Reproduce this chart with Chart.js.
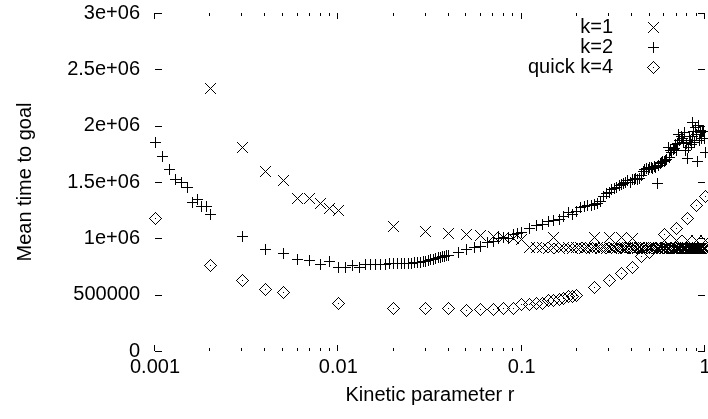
<!DOCTYPE html>
<html>
<head>
<meta charset="utf-8">
<script src="https://cdn.jsdelivr.net/npm/chart.js@4.4.0/dist/chart.umd.min.js"></script>
<style>
  html, body { margin: 0; padding: 0; background: #fff; overflow: hidden; }
</style>
</head>
<body>
<canvas id="myChart" width="708" height="419"></canvas>
<script>
// k=1
var k1X = [0.002, 0.003, 0.004, 0.005, 0.006, 0.007, 0.008, 0.009, 0.01,
  0.02, 0.03, 0.04, 0.05, 0.06, 0.07, 0.08, 0.09, 0.1,
  0.11, 0.12, 0.13, 0.14, 0.15, 0.16, 0.17, 0.18, 0.19, 0.2,
  0.21, 0.22, 0.23, 0.24, 0.25, 0.26, 0.27, 0.28, 0.29, 0.3,
  0.31, 0.32, 0.33, 0.34, 0.35, 0.36, 0.37, 0.38, 0.39, 0.4,
  0.41, 0.42, 0.43, 0.44, 0.45, 0.46, 0.47, 0.48, 0.49, 0.5,
  0.51, 0.52, 0.53, 0.54, 0.55, 0.56, 0.57, 0.58, 0.59, 0.6,
  0.61, 0.62, 0.63, 0.64, 0.65, 0.66, 0.67, 0.68, 0.69, 0.7,
  0.71, 0.72, 0.73, 0.74, 0.75, 0.76, 0.77, 0.78, 0.79, 0.8,
  0.81, 0.82, 0.83, 0.84, 0.85, 0.86, 0.87, 0.88, 0.89, 0.9,
  0.91, 0.92, 0.93, 0.94, 0.95, 0.96, 0.97, 0.98, 0.99, 1.0,
  0.15, 0.25, 0.3, 0.35, 0.4, 0.6, 0.7, 0.8, 0.9, 1.0];
var k1Y = [2334000, 1806000, 1590000, 1515000, 1355000, 1355000, 1310000, 1266000, 1251000,
  1105000, 1065000, 1047000, 1035000, 1025000, 1015000, 1005000, 1000000, 990000,
  918000, 915000, 917000, 914000, 916000, 913000, 915000, 917000, 914000, 916000,
  915000, 913000, 916000, 914000, 915000, 917000, 913000, 915000, 914000, 916000,
  914000, 915000, 913000, 916000, 915000, 914000, 912000, 915000, 916000, 914000,
  913000, 915000, 914000, 916000, 913000, 915000, 914000, 912000, 915000, 914000,
  915000, 913000, 914000, 916000, 914000, 913000, 915000, 914000, 912000, 914000,
  913000, 915000, 914000, 913000, 915000, 912000, 914000, 913000, 915000, 914000,
  912000, 914000, 913000, 915000, 913000, 914000, 912000, 914000, 913000, 915000,
  913000, 914000, 912000, 914000, 913000, 915000, 912000, 914000, 913000, 914000,
  912000, 914000, 913000, 914000, 912000, 913000, 915000, 913000, 914000, 912000,
  1003000, 1003000, 1003000, 1003000, 1000000, 985000, 985000, 985000, 985000, 985000];

// k=2
var k2X = [0.001, 0.0011, 0.0012, 0.0013, 0.0014, 0.0015, 0.0016, 0.0017, 0.0018, 0.0019, 0.002,
  0.003, 0.004, 0.005, 0.006, 0.007, 0.008, 0.009, 0.01,
  0.011, 0.012, 0.013, 0.014, 0.015, 0.016, 0.017, 0.018, 0.019, 0.02,
  0.021, 0.022, 0.023, 0.024, 0.025, 0.026, 0.027, 0.028, 0.029, 0.03,
  0.031, 0.032, 0.033, 0.034, 0.035, 0.036, 0.037, 0.038, 0.039, 0.04,
  0.045, 0.05, 0.055, 0.06, 0.065, 0.07, 0.075, 0.08, 0.085, 0.09, 0.095, 0.1,
  0.11, 0.12, 0.13, 0.14, 0.15, 0.16, 0.17, 0.18, 0.19, 0.2,
  0.21, 0.22, 0.23, 0.24, 0.25, 0.26, 0.27, 0.28, 0.29, 0.3,
  0.31, 0.32, 0.33, 0.34, 0.35, 0.36, 0.37, 0.38, 0.39, 0.4,
  0.41, 0.42, 0.43, 0.44, 0.45, 0.46, 0.47, 0.48, 0.49, 0.5,
  0.51, 0.52, 0.53, 0.54, 0.55, 0.56, 0.57, 0.58, 0.59, 0.6,
  0.61, 0.62, 0.63, 0.64, 0.65, 0.66, 0.67, 0.68, 0.69, 0.7,
  0.71, 0.72, 0.73, 0.74, 0.75, 0.76, 0.77, 0.78, 0.79, 0.8,
  0.81, 0.82, 0.83, 0.84, 0.85, 0.86, 0.87, 0.88, 0.89, 0.9,
  0.91, 0.92, 0.93, 0.94, 0.95, 0.96, 0.97, 0.98, 0.99, 1.0];
var k2Y = [1855000, 1730000, 1615000, 1518000, 1494000, 1450000, 1316000, 1346000, 1280000, 1280000, 1210000,
  1015000, 905000, 861000, 808000, 799000, 769000, 793000, 743000,
  743000, 763000, 745000, 768000, 772000, 772000, 770000, 772000, 774000, 775000,
  776000, 775000, 778000, 780000, 780000, 782000, 785000, 788000, 790000, 793000,
  800000, 810000, 815000, 822000, 828000, 832000, 836000, 840000, 845000, 850000,
  870000, 905000, 915000, 930000, 960000, 970000, 995000, 1010000, 1000000, 1030000, 1045000, 1056000,
  1090000, 1110000, 1120000, 1145000, 1160000, 1170000, 1190000, 1225000, 1210000, 1240000,
  1270000, 1280000, 1290000, 1295000, 1300000, 1310000, 1330000, 1370000, 1400000, 1410000,
  1430000, 1440000, 1455000, 1465000, 1480000, 1490000, 1500000, 1510000, 1500000, 1520000,
  1525000, 1530000, 1525000, 1535000, 1560000, 1590000, 1610000, 1620000, 1615000, 1625000,
  1630000, 1620000, 1635000, 1625000, 1490000, 1645000, 1660000, 1670000, 1680000, 1685000,
  1695000, 1700000, 1810000, 1720000, 1780000, 1765000, 1790000, 1800000, 1830000, 1780000,
  1845000, 1920000, 1870000, 1900000, 1890000, 1855000, 1935000, 1780000, 1845000, 1710000,
  1810000, 1905000, 1870000, 1830000, 2030000, 1900000, 1945000, 1855000, 1980000, 1920000,
  1680000, 2000000, 1870000, 1960000, 1935000, 1890000, 1950000, 1945000, 1890000, 1760000];

// quick k=4
var k4X = [0.001, 0.002, 0.003, 0.004, 0.005, 0.01,
  0.02, 0.03, 0.04, 0.05, 0.06, 0.07, 0.08, 0.09,
  0.1, 0.11, 0.12, 0.13, 0.14, 0.15, 0.16, 0.17, 0.18, 0.19, 0.2,
  0.25, 0.3, 0.35, 0.4, 0.45, 0.5, 0.6, 0.7, 0.8, 0.9, 1.0];
var k4Y = [1180000, 755000, 630000, 550000, 515000, 426000,
  373000, 373000, 373000, 357000, 370000, 372000, 375000, 378000,
  410000, 417000, 420000, 425000, 445000, 450000, 460000, 470000, 480000, 480000, 490000,
  560000, 630000, 690000, 745000, 835000, 870000, 1030000, 1090000, 1180000, 1290000, 1370000];

var seriesLabels = ['k=1', 'k=2', 'quick k=4'];
var xTickValues = [0.001, 0.01, 0.1, 1];
var xTickLabels = ['0.001', '0.01', '0.1', '1'];
var yTickValues = [0, 500000, 1000000, 1500000, 2000000, 2500000, 3000000];
var yTickLabels = ['0', '500000', '1e+06', '1.5e+06', '2e+06', '2.5e+06', '3e+06'];

var FONT_FAMILY = '"Liberation Sans", Arial, Helvetica, sans-serif';
var FONT_SIZE = 20;

function toPoints(xs, ys) {
  var pts = [];
  for (var i = 0; i < xs.length; i++) pts.push({ x: xs[i], y: ys[i] });
  return pts;
}

// pixel markers like gnuplot's: x, + and diamond with a dot
function makeMarker(kind, half) {
  var n = half * 2 + 1;
  var cv = document.createElement('canvas');
  cv.width = n; cv.height = n;
  var g = cv.getContext('2d');
  g.fillStyle = '#000';
  for (var i = -half; i <= half; i++) {
    for (var j = -half; j <= half; j++) {
      var on = false;
      if (kind === 'x') on = Math.abs(i) === Math.abs(j);
      else if (kind === '+') on = i === 0 || j === 0;
      else on = Math.abs(i) + Math.abs(j) === half || (i === 0 && j === 0);
      if (on) g.fillRect(i + half, j + half, 1, 1);
    }
  }
  return cv;
}
var markX = makeMarker('x', 5);
var markPlus = makeMarker('+', 5);
var markDiamond = makeMarker('d', 6);

var crispPlugin = {
  id: 'crispMarks',
  beforeDatasetsDraw: function (chart) { chart.ctx.imageSmoothingEnabled = false; },
  afterDatasetsDraw: function (chart) { chart.ctx.imageSmoothingEnabled = true; }
};

// inward ticks on all four sides, no border
var tickPlugin = {
  id: 'gnuplotTicks',
  afterDraw: function (chart) {
    var c = chart.ctx, a = chart.chartArea, xs = chart.scales.x, ys = chart.scales.y;
    c.save();
    c.strokeStyle = '#000';
    c.lineWidth = 1;
    c.beginPath();
    yTickValues.forEach(function (v) {
      var py = Math.round(ys.getPixelForValue(v)) + 0.5;
      c.moveTo(a.left, py); c.lineTo(a.left + 7, py);
      c.moveTo(a.right, py); c.lineTo(a.right - 7, py);
    });
    xTickValues.forEach(function (v, i) {
      var px = Math.round(xs.getPixelForValue(v)) - 0.5;
      c.moveTo(px, a.bottom); c.lineTo(px, a.bottom - 6);
      c.moveTo(px, a.top); c.lineTo(px, a.top + 6);
      if (i < xTickValues.length - 1) {
        for (var m = 2; m <= 9; m++) {
          var mx = Math.round(xs.getPixelForValue(v * m)) - 0.5;
          c.moveTo(mx, a.bottom); c.lineTo(mx, a.bottom - 3);
          c.moveTo(mx, a.top); c.lineTo(mx, a.top + 3);
        }
      }
    });
    c.stroke();
    c.restore();
  }
};

// key in the top right: label, then symbol
var keyPlugin = {
  id: 'gnuplotKey',
  afterDraw: function (chart) {
    var c = chart.ctx;
    c.save();
    c.imageSmoothingEnabled = false;
    c.font = FONT_SIZE + 'px ' + FONT_FAMILY;
    c.fillStyle = '#000';
    c.textAlign = 'right';
    c.textBaseline = 'middle';
    chart.data.datasets.forEach(function (ds, i) {
      var yy = Math.round(27 + i * 20);
      var img = ds.pointStyle;
      c.fillText(ds.label, 613, yy);
      c.drawImage(img, 653 - Math.floor(img.width / 2), yy - Math.floor(img.height / 2));
    });
    c.restore();
  }
};

var ctx = document.getElementById('myChart').getContext('2d');
var chart = new Chart(ctx, {
  type: 'scatter',
  data: {
    datasets: [{
      label: seriesLabels[0],
      data: toPoints(k1X, k1Y),
      pointStyle: markX,
      pointRadius: 5,
      borderColor: '#000',
      backgroundColor: 'transparent',
      clip: false
    }, {
      label: seriesLabels[1],
      data: toPoints(k2X, k2Y),
      pointStyle: markPlus,
      pointRadius: 5,
      borderColor: '#000',
      backgroundColor: 'transparent',
      clip: false
    }, {
      label: seriesLabels[2],
      data: toPoints(k4X, k4Y),
      pointStyle: markDiamond,
      pointRadius: 6,
      borderColor: '#000',
      backgroundColor: 'transparent',
      clip: false
    }]
  },
  options: {
    responsive: false,
    animation: false,
    devicePixelRatio: 1,
    layout: { autoPadding: false, padding: { top: 13, right: 3, left: 0, bottom: 0 } },
    plugins: {
      legend: { display: false },
      tooltip: { enabled: false }
    },
    scales: {
      x: {
        type: 'logarithmic',
        min: 0.001,
        max: 1,
        grid: { display: false, drawTicks: false },
        border: { display: false },
        afterBuildTicks: function (s) {
          s.ticks = xTickValues.map(function (v) { return { value: v }; });
        },
        afterFit: function (s) {
          s.height = 68;
          s.paddingLeft = 0;
          s.paddingRight = 0;
        },
        ticks: {
          autoSkip: false,
          maxRotation: 0,
          padding: 4,
          color: '#000',
          font: { family: FONT_FAMILY, size: FONT_SIZE },
          callback: function (v, i) { return xTickLabels[i]; }
        },
        title: {
          display: true,
          text: 'Kinetic parameter r',
          color: '#000',
          font: { family: FONT_FAMILY, size: FONT_SIZE },
          padding: { top: 0, bottom: 12 }
        }
      },
      y: {
        min: 0,
        max: 3000000,
        grid: { display: false, drawTicks: false },
        border: { display: false },
        afterBuildTicks: function (s) {
          s.ticks = yTickValues.map(function (v) { return { value: v }; });
        },
        afterFit: function (s) {
          s.width = 155;
          s.paddingTop = 0;
          s.paddingBottom = 0;
        },
        ticks: {
          autoSkip: false,
          padding: 15,
          color: '#000',
          font: { family: FONT_FAMILY, size: FONT_SIZE },
          callback: function (v, i) { return yTickLabels[i]; }
        },
        title: {
          display: true,
          text: 'Mean time to goal',
          color: '#000',
          font: { family: FONT_FAMILY, size: FONT_SIZE },
          padding: { top: 13, bottom: 0 }
        }
      }
    }
  },
  plugins: [crispPlugin, tickPlugin, keyPlugin]
});
</script>
</body>
</html>
